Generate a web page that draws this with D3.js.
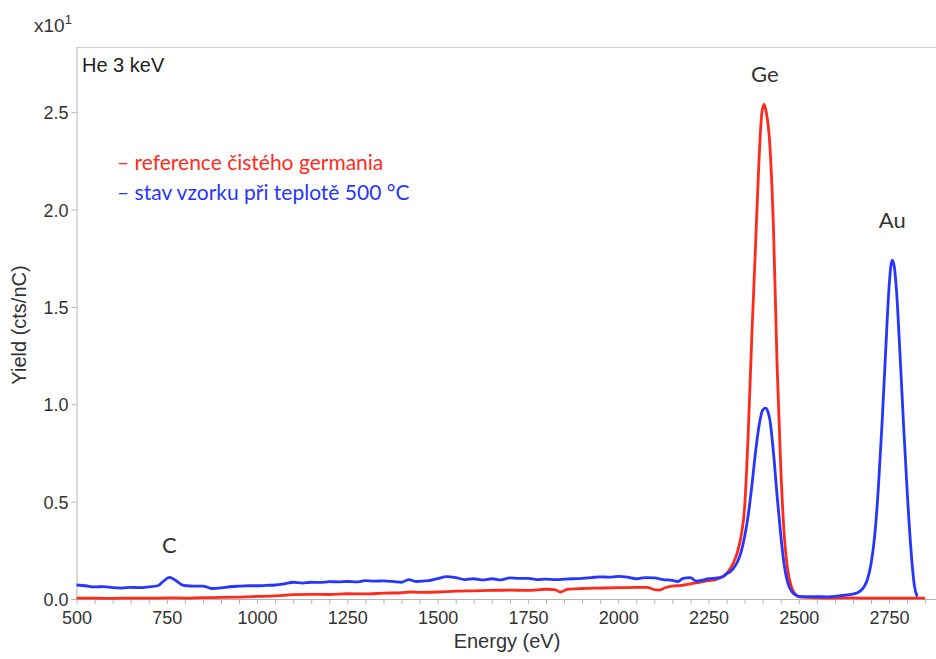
<!DOCTYPE html>
<html>
<head>
<meta charset="utf-8">
<script src="https://cdn.jsdelivr.net/npm/d3@7"></script>
<style>
  html, body { margin: 0; padding: 0; background: #fff; }
  svg { display: block; }
</style>
</head>
<body>
<svg id="chart" width="936" height="659"></svg>
<script>
// ---- Data (yield in units of x10^1 cts/nC) ----
const energyRed = [500,550,600,650,700,750,800,850,900,950,1000,1050,1100,1150,1200,1250,1300,1350,1400,1425,1450,1500,1550,1600,1650,1700,1750,1800,1825,1840,1860,1900,1950,2000,2050,2080,2100,2115,2130,2150,2175,2200,2225,2250,2270,2290,
  2300,2310,2320,2330,2340,2350,2360,2370,2380,2390,2398,2404,2410,2420,2430,2440,2450,2460,2470,2480,2490,2500,2520,2550,2600,2650,2700,2750,2800,2850];
const yieldRed = [0.004,0.004,0.003,0.005,0.004,0.006,0.005,0.007,0.008,0.010,0.013,0.016,0.022,0.024,0.023,0.027,0.026,0.030,0.032,0.036,0.034,0.036,0.040,0.042,0.044,0.046,0.044,0.050,0.048,0.036,0.050,0.054,0.056,0.058,0.060,0.060,0.048,0.046,0.058,0.066,0.070,0.078,0.086,0.094,0.100,0.115,
  0.13,0.155,0.19,0.24,0.32,0.47,0.85,1.35,1.80,2.26,2.50,2.54,2.50,2.33,1.90,1.20,0.68,0.32,0.14,0.06,0.025,0.012,0.008,0.006,0.005,0.006,0.004,0.005,0.004,0.004];

const energyBlue = [500,525,550,575,600,625,650,675,700,725,740,757,775,790,805,825,850,875,900,925,950,975,1000,1025,1050,1075,1100,1125,1150,1175,1200,1225,1250,1275,1300,1325,1350,1375,1400,1420,1440,1475,1500,1525,1550,1575,1600,1625,1650,1675,1700,1725,1750,1775,1800,1825,1850,1875,1900,1925,1950,1975,2000,2025,2050,2075,2100,2125,2150,2165,2180,2200,2215,2230,2250,2275,2290,
  2300,2310,2320,2330,2340,2350,2360,2370,2380,2390,2400,2408,2415,2420,2430,2440,2450,2460,2470,2480,2490,2500,2520,2550,2580,2600,2620,2640,2660,2670,2680,2690,2700,2710,2720,2730,2740,2750,2755,2759,2765,2770,2780,2790,2800,2810,2820,2828];
const yieldBlue = [0.072,0.068,0.062,0.064,0.058,0.056,0.060,0.058,0.062,0.068,0.090,0.111,0.095,0.075,0.068,0.066,0.066,0.054,0.057,0.063,0.066,0.068,0.068,0.070,0.072,0.078,0.086,0.082,0.086,0.085,0.089,0.088,0.090,0.088,0.094,0.092,0.093,0.090,0.086,0.100,0.090,0.094,0.105,0.115,0.110,0.100,0.104,0.098,0.104,0.098,0.108,0.106,0.106,0.100,0.102,0.100,0.102,0.104,0.106,0.110,0.114,0.112,0.116,0.112,0.104,0.110,0.108,0.100,0.096,0.090,0.106,0.110,0.092,0.095,0.104,0.108,0.115,
  0.13,0.14,0.16,0.19,0.24,0.32,0.43,0.58,0.75,0.89,0.97,0.98,0.96,0.92,0.75,0.53,0.33,0.17,0.08,0.04,0.022,0.014,0.012,0.012,0.011,0.013,0.018,0.022,0.030,0.040,0.060,0.10,0.18,0.32,0.56,0.88,1.25,1.60,1.71,1.74,1.70,1.60,1.27,0.90,0.56,0.27,0.07,0.012];

const majorTicksX = [500,750,1000,1250,1500,1750,2000,2250,2500,2750];
const ticksY = [0.0,0.5,1.0,1.5,2.0,2.5];
const seriesNames = ["reference čistého germania", "stav vzorku při teplotě 500 °C"];
const peakLabels = [{t:"C", e:757, v:0.111}, {t:"Ge", e:2406, v:2.54}, {t:"Au", e:2759, v:1.74}];

// ---- Layout ----
const mLeft = 76.5, mRight = 936, mTop = 47, mBottom = 599;
const colRed = "#ff2a1c", colBlue = "#2636ff";
const axisCol = "#b4b4b4", textCol = "#333";
const sansA = "Liberation Sans, Arial, sans-serif";
const sansB = "Lato, 'Noto Sans', sans-serif";

const svg = d3.select("#chart");
const x = d3.scaleLinear().domain([500, 2880]).range([mLeft, mRight]);
const y = d3.scaleLinear().domain([0, 2.835]).range([mBottom, mTop]);

// frame (top border)
svg.append("line").attr("x1", mLeft).attr("x2", mRight).attr("y1", mTop + 0.5).attr("y2", mTop + 0.5)
  .attr("stroke", "#d0d0d0").attr("stroke-width", 1);

// x axis
const minorX = d3.range(500, 2851, 50);
const xAxis = d3.axisBottom(x).tickValues(minorX).tickSize(5).tickSizeOuter(0)
  .tickFormat(d => majorTicksX.includes(d) ? d : "");
const gx = svg.append("g").attr("transform", `translate(0,${mBottom})`).call(xAxis);
gx.select(".domain").attr("stroke", axisCol).attr("d", `M${mLeft},0.5H${mRight}`);
gx.selectAll(".tick line").attr("stroke", axisCol);
gx.selectAll(".tick text").attr("fill", textCol).attr("font-family", sansA)
  .attr("font-size", 18).attr("dy", 0).attr("y", 25);

// y axis
const yAxis = d3.axisLeft(y).tickValues(ticksY).tickSize(5).tickSizeOuter(0).tickFormat(d3.format(".1f"));
const gy = svg.append("g").attr("transform", `translate(${mLeft},0)`).call(yAxis);
gy.select(".domain").attr("stroke", axisCol).attr("d", `M0.5,${mBottom}V${mTop}`);
gy.selectAll(".tick line").attr("stroke", axisCol);
gy.selectAll(".tick text").attr("fill", textCol).attr("font-family", sansA)
  .attr("font-size", 18).attr("x", -8).attr("dy", "0.36em");

// lines
const line = d3.line().x(d => x(d[0])).y(d => y(d[1])).curve(d3.curveMonotoneX);
const redData = energyRed.map((e, i) => [e, yieldRed[i]]);
const blueData = energyBlue.map((e, i) => [e, yieldBlue[i]]);
svg.append("path").datum(redData).attr("d", line).attr("fill", "none")
  .attr("stroke", colRed).attr("stroke-width", 2.8).attr("stroke-linejoin", "round");
svg.append("path").datum(blueData).attr("d", line).attr("fill", "none")
  .attr("stroke", colBlue).attr("stroke-width", 2.8).attr("stroke-linejoin", "round");

// axis titles
svg.append("text").attr("x", 507).attr("y", 648).attr("text-anchor", "middle")
  .attr("font-family", sansA).attr("font-size", 20).attr("fill", textCol)
  .text("Energy (eV)");
svg.append("text").attr("transform", "translate(26,325) rotate(-90)").attr("text-anchor", "middle")
  .attr("font-family", sansA).attr("font-size", 20).attr("fill", textCol)
  .text("Yield (cts/nC)");

// exponent
const ex = svg.append("text").attr("x", 34).attr("y", 32)
  .attr("font-family", sansA).attr("font-size", 19).attr("fill", textCol);
ex.append("tspan").text("x10");
ex.append("tspan").attr("dy", -8).attr("font-size", 13).text("1");

// panel label
svg.append("text").attr("x", 82).attr("y", 72)
  .attr("font-family", sansA).attr("font-size", 20).attr("fill", "#222")
  .text("He 3 keV");

// peak labels
const offs = {"C": 24, "Ge": 22, "Au": 32};
svg.selectAll("text.peak").data(peakLabels).enter().append("text").attr("class", "peak")
  .attr("x", d => x(d.e)).attr("y", d => y(d.v) - offs[d.t])
  .attr("text-anchor", "middle").attr("font-family", sansB)
  .attr("font-size", 22).attr("fill", "#333").text(d => d.t);

// legend
const legCols = [colRed, colBlue];
svg.selectAll("text.leg").data(seriesNames).enter().append("text").attr("class", "leg")
  .attr("x", 117).attr("y", (d, i) => 170 + i * 30)
  .attr("font-family", sansB).attr("font-size", 21)
  .attr("fill", (d, i) => legCols[i]).text(d => "– " + d);
</script>
</body>
</html>
